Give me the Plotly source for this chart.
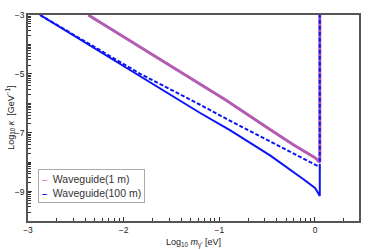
import numpy as np
import plotly.graph_objects as go

# Waveguide(1 m) curve (purple)
x_1m = [-2.37, -2.0, -1.618, -1.3, -0.937, -0.466, -0.222, 0.0, 0.023, 0.05, 0.05]
y_1m = [-3.0, -3.75, -4.525, -5.16, -5.88, -6.9, -7.42, -7.85, -7.93, -8.0, -3.0]

# Waveguide(100 m) dashed curve (blue)
x_100d = [-2.874, -2.246, -1.827, -1.2, -0.885, -0.466, 0.005, 0.05, 0.05]
y_100d = [-3.0, -4.2, -5.0, -6.05, -6.6, -7.3, -8.08, -8.17, -3.0]

# Waveguide(100 m) solid curve (blue)
x_100s = [-2.874, -2.246, -1.827, -1.2, -0.885, -0.466, -0.117, 0.0, 0.023, 0.04, 0.05, 0.05]
y_100s = [-3.0, -4.24, -5.07, -6.33, -6.92, -7.78, -8.59, -8.88, -9.0, -9.1, -9.15, -8.17]

x_ticks = [-3, -2, -1, 0]
y_ticks = [-3, -5, -7, -9]
legend_names = ["Waveguide(1 m)", "Waveguide(100 m)"]

x_minor = [n + np.log10(k) for n in (-3, -2, -1, 0) for k in range(2, 10) if n + np.log10(k) < 0.46]
y_minor = [n + np.log10(k) for n in range(-10, -3) for k in range(1, 10)]

purple = "#b25cb2"
blue = "#0a14f5"
font = "Liberation Sans"

fig = go.Figure()
fig.add_trace(go.Scatter(x=x_1m, y=y_1m, mode="lines", name=legend_names[0],
                         line=dict(color=purple, width=3), showlegend=False))
fig.add_trace(go.Scatter(x=x_100d, y=y_100d, mode="lines",
                         line=dict(color=blue, width=2, dash="4px,2px"), showlegend=False))
fig.add_trace(go.Scatter(x=x_100s, y=y_100s, mode="lines", name=legend_names[1],
                         line=dict(color=blue, width=2), showlegend=False))

axis_common = dict(showgrid=False, zeroline=False, showline=True, mirror=True,
                   linecolor="#555555", linewidth=1.5, ticks="inside",
                   tickcolor="#333333", ticklen=4, tickwidth=1, automargin=False,
                   tickfont=dict(family=font, size=8.5, color="#222222"))

legend_text = (
    f"<span style='color:{purple};font-size:9px'>\u2013</span>  {legend_names[0]}<br>"
    f"<span style='color:{blue};font-size:9px'><b>\u2013</b></span>  {legend_names[1]}"
)

fig.update_layout(
    width=374, height=250,
    margin=dict(l=28, r=15, t=15, b=29),
    paper_bgcolor="white", plot_bgcolor="white",
    font=dict(family=font, size=9, color="#222222"),
    showlegend=False,
    xaxis=dict(range=[-3, 0.46], tickmode="array", tickvals=x_ticks,
               ticktext=["\u22123", "\u22122", "\u22121", "0"],
               minor=dict(tickmode="array", tickvals=x_minor, ticks="inside",
                          ticklen=3, tickcolor="#333333", tickwidth=1),
               **axis_common),
    yaxis=dict(range=[-10, -3], tickmode="array", tickvals=y_ticks,
               ticktext=["\u22123", "\u22125", "\u22127", "\u22129"],
               minor=dict(tickmode="array", tickvals=y_minor, ticks="inside",
                          ticklen=3, tickcolor="#333333", tickwidth=1),
               **axis_common),
    annotations=[
        dict(text=legend_text, xref="paper", yref="paper", x=0.03, y=0.087,
             xanchor="left", yanchor="bottom", showarrow=False, align="left",
             font=dict(family=font, size=10.5, color="#333333"),
             bgcolor="white", bordercolor="#aaaaaa", borderwidth=1, borderpad=3),
        dict(text="Log<sub>10</sub> <i>m</i><sub>γ'</sub> [eV]", xref="paper", yref="paper",
             x=0.5, y=-0.07, xanchor="center", yanchor="top", showarrow=False,
             font=dict(family=font, size=9, color="#222222")),
        dict(text="Log<sub>10</sub> <i>κ</i>  [GeV<sup>−1</sup>]", xref="paper", yref="paper",
             x=-0.055, y=0.5, xanchor="center", yanchor="middle", showarrow=False,
             textangle=-90, font=dict(family=font, size=9, color="#222222")),
    ],
)

fig.write_html("out.html", config={"displayModeBar": False},
               post_script="document.body.style.margin='0';document.body.style.overflow='hidden';")
